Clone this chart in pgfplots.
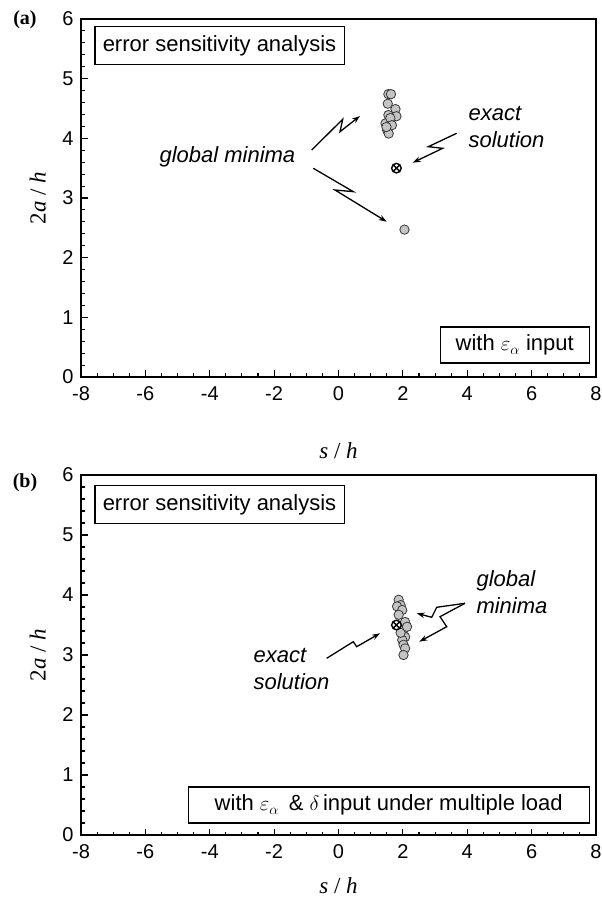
\documentclass[border=0pt]{standalone}
\usepackage{pgfplots}
\pgfplotsset{compat=1.18}
\usepackage{fontspec}
\setmainfont{Liberation Sans}
\newfontfamily\serif{Liberation Serif}
\usetikzlibrary{arrows.meta}

\definecolor{ptfill}{RGB}{196,196,196}
\definecolor{ptedge}{RGB}{55,55,55}

\newcommand{\txt}{\fontsize{22}{27}\selectfont}

\pgfplotsset{
  panel/.style={
    scale only axis, width=515pt,
    xmin=-8, xmax=8, ymin=0, ymax=6,
    xtick={-8,-6,...,8}, ytick={0,1,...,6},
    minor x tick num=3, minor y tick num=4,
    tick align=inside, xtick pos=bottom, ytick pos=left,
    major tick length=6.5pt, minor tick length=3.5pt,
    axis line style={line width=1.8pt},
    every tick/.style={black, line width=1.1pt},
    tick label style={font=\fontsize{20}{22}\selectfont},
    xticklabel style={yshift=-6pt},
    yticklabel style={xshift=-4pt},
    /pgf/number format/assume math mode=true,
    xlabel={\textit{s} / \textit{h}},
    ylabel={2\textit{a} / \textit{h}},
    label style={font=\serif\fontsize{23}{26}\selectfont},
    ylabel style={at={(axis description cs:-0.084,0.5)}, anchor=center},
  },
  gpts/.style={only marks, mark=*, mark size=4.7pt,
    mark options={fill=ptfill, draw=ptedge, line width=0.8pt}},
  exact/.style={only marks, mark=otimes*, mark size=4.8pt,
    mark options={fill=white, draw=black, line width=1.4pt}},
}

\begin{document}
\begin{tikzpicture}
\path[use as bounding box] (0pt,0pt) rectangle (602pt,902pt);

% ---------- panel (a)
\begin{axis}[panel, height=358pt, at={(81pt,525pt)}, anchor=south west,
  xlabel style={at={(axis description cs:0.5,0)}, anchor=center, yshift=-74pt}]
\addplot[gpts] coordinates {
 (1.55,4.74) (1.63,4.74) (1.53,4.58) (1.77,4.49) (1.55,4.39) (1.80,4.37)
 (1.46,4.25) (1.61,4.34) (1.51,4.14) (1.56,4.08) (1.66,4.22) (1.49,4.19)
 (2.05,2.47)};
\addplot[exact] coordinates {(1.8,3.5)};
\end{axis}

% ---------- panel (b)
\begin{axis}[panel, height=360pt, at={(81pt,67pt)}, anchor=south west,
  xlabel style={at={(axis description cs:0.5,0)}, anchor=center, yshift=-51pt}]
\addplot[gpts] coordinates {
 (1.87,3.92) (1.93,3.83) (1.82,3.81) (1.98,3.75) (1.87,3.67) (2.07,3.55)
 (2.02,3.42) (2.07,3.30) (1.98,3.25) (2.02,3.17) (2.07,3.11) (2.02,3.00)
 (1.93,3.37) (2.13,3.47)};
\addplot[exact] coordinates {(1.8,3.5)};
\end{axis}

% panel tags
\node[font=\serif\bfseries\fontsize{20}{22}\selectfont] at (25pt,882pt) {(a)};
\node[font=\serif\bfseries\fontsize{20}{22}\selectfont] at (25pt,419pt) {(b)};

% boxes
\tikzset{tbox/.style={draw, line width=1.5pt, font=\txt, inner xsep=8pt,
  minimum height=38pt}}
\node[tbox, anchor=north west] at (94pt,876pt) {error sensitivity analysis};
\node[tbox, anchor=south east, minimum height=36pt, minimum width=149pt] at (590pt,538pt)
  {with $\varepsilon_\alpha$ input};
\node[tbox, anchor=north west] at (94pt,417pt) {error sensitivity analysis};
\node[tbox, anchor=south east, minimum height=36pt, minimum width=401pt] at (590pt,78pt)
  {with $\varepsilon_\alpha$\,\ \& $\delta$\,input under multiple load};

% annotations (a)
\tikzset{zap/.style={line width=1.3pt, -{Stealth[length=8pt,width=5.5pt]}}}
\node[anchor=west, font=\txt\itshape] at (156pt,745pt) {global minima};
\draw[zap] (311.7pt,752pt) -- (342.7pt,782.7pt) -- (340pt,770.3pt) -- (360pt,786pt);
\draw[zap] (313.3pt,733.7pt) -- (353.3pt,710.3pt) -- (335pt,712pt) -- (386.7pt,680.3pt);
\node[anchor=west, align=left, font=\txt\itshape] at (465pt,775pt) {exact\\solution};
\draw[zap] (456.7pt,768.7pt) -- (428.3pt,755.3pt) -- (442.7pt,753.7pt) -- (412.7pt,739.3pt);

% annotations (b)
\node[anchor=west, align=left, font=\txt\itshape] at (473pt,309.5pt) {global\\minima};
\draw[zap] (465pt,298.7pt) -- (436.7pt,294.7pt) -- (431.7pt,284.7pt) -- (416.7pt,288.7pt);
\draw[zap] (465pt,298.7pt) -- (440pt,285.3pt) -- (446.7pt,275.3pt) -- (419.3pt,260.3pt);
\node[anchor=west, align=left, font=\txt\itshape] at (250pt,233.5pt) {exact\\solution};
\draw[zap] (326.7pt,243.7pt) -- (353.3pt,260.3pt) -- (356.7pt,255.3pt) -- (380pt,268.7pt);
\end{tikzpicture}
\end{document}
